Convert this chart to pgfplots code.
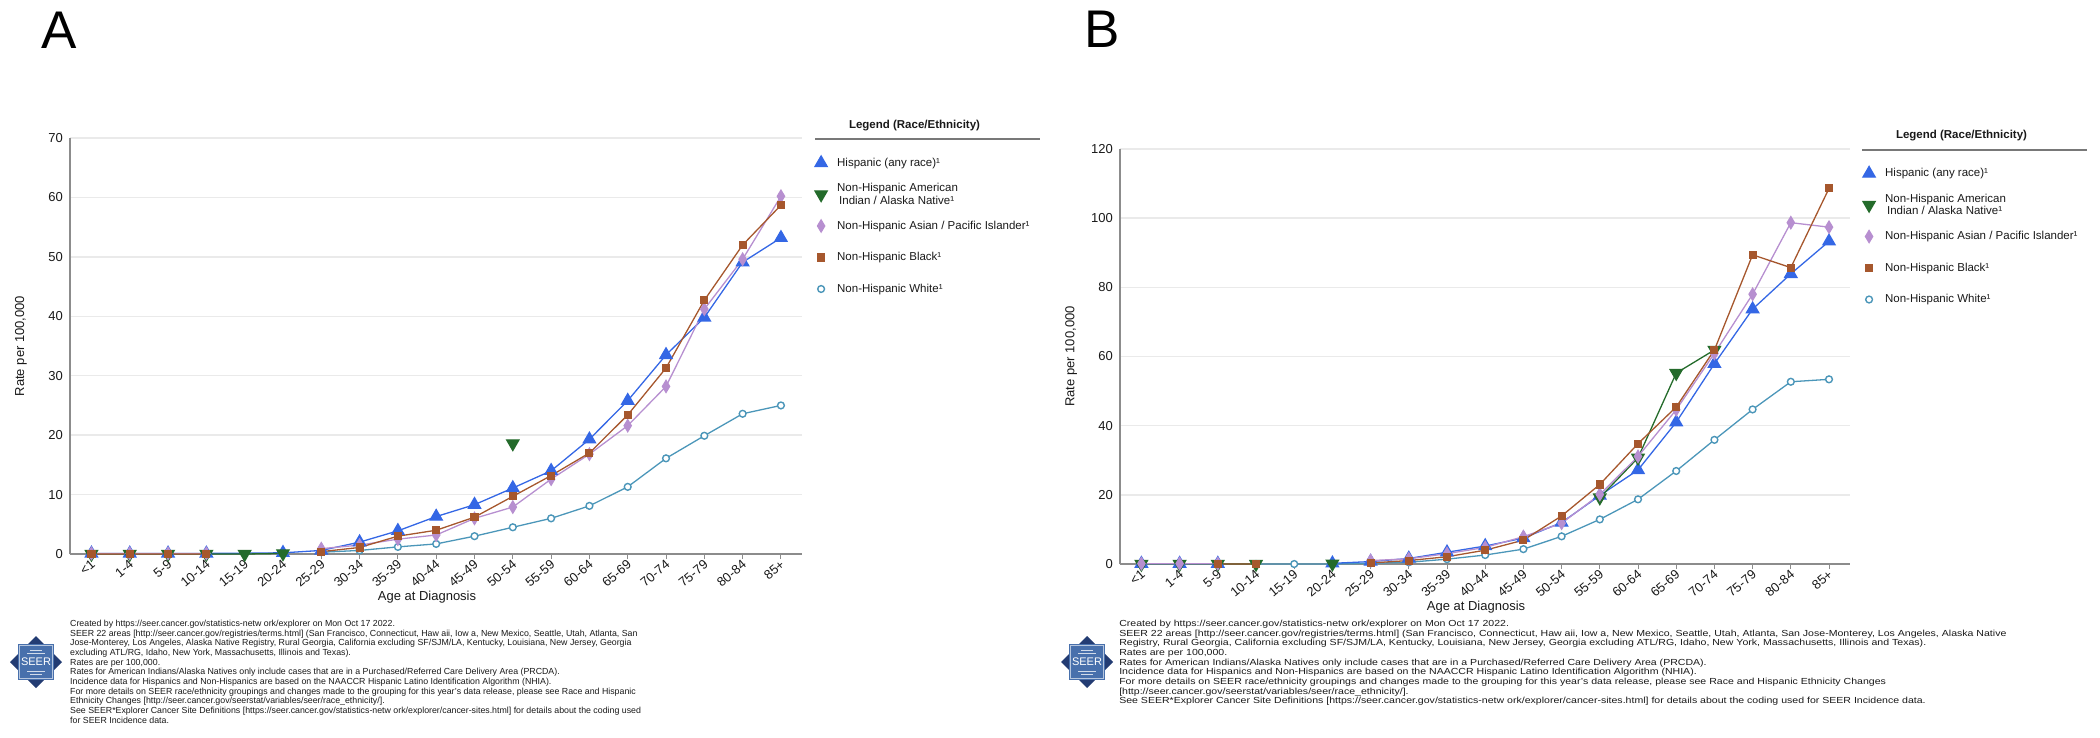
\documentclass[border=0pt]{standalone}
\usepackage{fontspec}
\setmainfont{Liberation Sans}
\usepackage{pgfplots}
\pgfplotsset{compat=1.18}

\definecolor{hisp}{RGB}{52,103,229}
\definecolor{aian}{RGB}{36,107,43}
\definecolor{api}{RGB}{183,143,208}
\definecolor{blk}{RGB}{166,87,45}
\definecolor{wht}{RGB}{75,150,185}
\definecolor{axgray}{RGB}{140,140,140}
\definecolor{gridgray}{RGB}{234,234,234}
\definecolor{txt}{RGB}{25,25,25}
\definecolor{legline}{RGB}{120,120,120}
\definecolor{navy}{RGB}{35,60,115}
\definecolor{seerblue}{RGB}{72,112,172}

\pgfplotsset{
  seer/.style={
    scale only axis,
    clip=false,
    axis x line=bottom, axis y line=left,
    axis line style={-, draw=axgray, line width=1.5pt},
    xmin=-0.56, xmax=18.55, ymin=0,
    xtick={0,...,18},
    xticklabels={<1,1-4,5-9,10-14,15-19,20-24,25-29,30-34,35-39,40-44,45-49,50-54,55-59,60-64,65-69,70-74,75-79,80-84,85+},
    tick align=outside,
    major tick length=5pt,
    x tick style={draw=axgray, line width=1pt},
    y tick style={draw=none},
    ymajorgrids,
    grid style={draw=gridgray, line width=1.5pt},
    tick label style={font=\fontsize{13}{15}\selectfont, text=txt},
    xticklabel style={rotate=40, anchor=east, inner sep=1pt, yshift=-4pt},
    yticklabel style={inner sep=2pt},
    /pgf/number format/assume math mode=true,
    unbounded coords=jump,
    label style={font=\fontsize{13}{15}\selectfont, text=txt},
    ylabel style={at={(axis description cs:-0.067,0.5)}, anchor=center},
    xlabel style={at={(axis description cs:0.4877,-0.103)}, anchor=center},
    legend cell align=left,
    legend style={draw=none, fill=none, anchor=north west, inner sep=0pt, outer sep=0pt,
      column sep=10pt, row sep=0pt, font=\fontsize{11.5}{12.7}\selectfont, text=txt,
      nodes={inner sep=0pt, minimum height=31.5pt, align=left}},
    legend image code/.code={\draw[##1] plot coordinates {(0pt,0pt)};},
  },
  hispS/.style={color=hisp, line width=1.3pt, mark=triangle*, mark size=7pt, mark options={solid}},
  aianS/.style={color=aian, line width=1.3pt, mark=triangle*, mark size=7pt, mark options={solid, rotate=180}},
  apiS/.style={color=api, line width=1.3pt, mark=diamond*, mark size=6pt, mark options={solid, xscale=0.8}},
  blkS/.style={color=blk, line width=1.3pt, mark=square*, mark size=3.4pt, mark options={solid}},
  whtS/.style={color=wht, line width=1.3pt, mark=*, mark size=3.4pt, mark options={solid, fill=white, line width=1.4pt}},
}

\newcommand{\seerlogo}[1]{%
  \begin{scope}[shift={#1}]
    \fill[navy] (0,26pt) -- (26pt,0) -- (0,-26pt) -- (-26pt,0) -- cycle;
    \fill[seerblue] (-18pt,-18pt) rectangle (18pt,18pt);
    \draw[white!60!seerblue, line width=0.8pt] (-16.5pt,-16.5pt) rectangle (16.5pt,16.5pt);
    \draw[white!75!seerblue, line width=0.5pt] (-9pt,9pt) -- (9pt,9pt) (-6pt,12pt) -- (6pt,12pt)
      (-9pt,-9pt) -- (9pt,-9pt) (-6pt,-12pt) -- (6pt,-12pt);
    \node[text=white, inner sep=0pt, font=\fontsize{11}{11}\selectfont] at (0,0) {SEER};
  \end{scope}}

\begin{document}
\begin{tikzpicture}
\useasboundingbox (0,0) rectangle (2100pt,-737pt);

% ---------------- Panel A ----------------
\begin{axis}[seer, at={(70pt,-554pt)}, anchor=south west, width=732pt, height=416pt,
  ymax=70, ytick={0,10,...,70},
  xlabel={Age at Diagnosis}, ylabel={Rate per 100,000},
  legend style={at={(axis description cs:1.0178,0.9778)}}]
\addplot[whtS, forget plot] coordinates {(6,0.3)(7,0.6)(8,1.2)(9,1.7)(10,3.0)(11,4.5)(12,6.0)(13,8.1)(14,11.3)(15,16.1)(16,19.9)(17,23.6)(18,25.0)};
\addplot[hispS, forget plot] coordinates {(0,0.1)(1,0.1)(2,0.1)(3,0.1)(5,0.2)(6,0.6)(7,2.0)(8,3.9)(9,6.3)(10,8.3)(11,11.1)(12,14.0)(13,19.3)(14,25.8)(15,33.5)(16,39.8)(17,49.1)(18,53.2)};
\addplot[aianS, forget plot] coordinates {(0,0)(1,0)(2,0)(3,0)(4,0)(5,0.1)(6,nan)(11,18.6)};
\addplot[apiS, forget plot] coordinates {(0,0.1)(1,0.1)(2,0.1)(3,0.1)(4,nan)(6,0.9)(7,1.5)(8,2.5)(9,3.2)(10,6.0)(11,7.9)(12,12.6)(13,16.8)(14,21.6)(15,28.2)(16,41.2)(17,49.6)(18,60.2)};
\addplot[blkS, forget plot] coordinates {(0,0)(1,0)(2,0)(3,0)(4,nan)(6,0.4)(7,1.1)(8,3.0)(9,4.0)(10,6.2)(11,9.7)(12,13.2)(13,17.0)(14,23.4)(15,31.3)(16,42.7)(17,52.0)(18,58.7)};
\addlegendimage{hispS}\addlegendentry{Hispanic (any race)¹}
\addlegendimage{aianS}\addlegendentry{Non-Hispanic American\\\hspace{2pt}Indian / Alaska Native¹}
\addlegendimage{apiS}\addlegendentry{Non-Hispanic Asian / Pacific Islander¹}
\addlegendimage{blkS}\addlegendentry{Non-Hispanic Black¹}
\addlegendimage{whtS}\addlegendentry{Non-Hispanic White¹}
\end{axis}

% ---------------- Panel B ----------------
\begin{axis}[seer, at={(1120pt,-564pt)}, anchor=south west, width=730pt, height=415pt,
  ymax=120, ytick={0,20,...,120},
  xlabel={Age at Diagnosis}, ylabel={Rate per 100,000},
  legend style={at={(axis description cs:1.0178,0.9789)}}]
\addplot[whtS, forget plot] coordinates {(0,0)(1,0)(2,0)(3,0)(4,0)(5,0)(6,0.2)(7,0.5)(8,1.4)(9,2.6)(10,4.3)(11,8.0)(12,12.9)(13,18.7)(14,26.9)(15,35.9)(16,44.7)(17,52.7)(18,53.4)};
\addplot[hispS, forget plot] coordinates {(0,0.1)(1,0.1)(2,0.1)(3,nan)(5,0.2)(6,0.7)(7,1.6)(8,3.4)(9,5.2)(10,7.5)(11,12.0)(12,19.8)(13,27.2)(14,41.0)(15,57.9)(16,73.7)(17,83.9)(18,93.3)};
\addplot[aianS, forget plot] coordinates {(0,0)(1,0)(2,0)(3,0)(4,nan)(5,0.1)(6,nan)(12,19.2)(13,30.7)(14,55.2)(15,61.9)};
\addplot[apiS, forget plot] coordinates {(0,0.1)(1,0.1)(2,0.1)(3,nan)(6,1.0)(7,1.5)(8,3.0)(9,4.8)(10,7.9)(11,11.8)(12,20.1)(13,31.1)(14,44.6)(15,60.9)(16,78.0)(17,98.7)(18,97.4)};
\addplot[blkS, forget plot] coordinates {(2,0)(3,0)(4,nan)(6,0.3)(7,1.0)(8,2.1)(9,4.0)(10,6.9)(11,13.9)(12,23.0)(13,34.8)(14,45.4)(15,61.9)(16,89.4)(17,85.7)(18,108.6)};
\addlegendimage{hispS}\addlegendentry{Hispanic (any race)¹}
\addlegendimage{aianS}\addlegendentry{Non-Hispanic American\\\hspace{2pt}Indian / Alaska Native¹}
\addlegendimage{apiS}\addlegendentry{Non-Hispanic Asian / Pacific Islander¹}
\addlegendimage{blkS}\addlegendentry{Non-Hispanic Black¹}
\addlegendimage{whtS}\addlegendentry{Non-Hispanic White¹}
\end{axis}

% panel letters
\node[anchor=base west, inner sep=0pt, font=\fontsize{53}{53}\selectfont] at (41pt,-48pt) {A};
\node[anchor=base west, inner sep=0pt, font=\fontsize{53}{53}\selectfont] at (1084pt,-47pt) {B};

% legend headers
\node[inner sep=0pt, text=txt, font=\bfseries\fontsize{11.5}{13}\selectfont] at (914.5pt,-126pt) {Legend (Race/Ethnicity)};
\draw[legline, line width=2pt] (815pt,-139pt) -- (1040pt,-139pt);
\node[inner sep=0pt, text=txt, font=\bfseries\fontsize{11.5}{13}\selectfont] at (1961.5pt,-136pt) {Legend (Race/Ethnicity)};
\draw[legline, line width=2pt] (1862pt,-149.5pt) -- (2087pt,-149.5pt);

% logos
\seerlogo{(36pt,-662pt)}
\seerlogo{(1087pt,-662pt)}

% footnotes
\node[anchor=north west, inner sep=0pt, align=left, text=txt, font=\fontsize{8.8}{9.65}\selectfont] at (70pt,-620pt) {%
Created by https://seer.cancer.gov/statistics-netw ork/explorer on Mon Oct 17 2022.\\
SEER 22 areas {[}http://seer.cancer.gov/registries/terms.html{]} (San Francisco, Connecticut, Haw aii, Iow a, New Mexico, Seattle, Utah, Atlanta, San\\
Jose-Monterey, Los Angeles, Alaska Native Registry, Rural Georgia, California excluding SF/SJM/LA, Kentucky, Louisiana, New Jersey, Georgia\\
excluding ATL/RG, Idaho, New York, Massachusetts, Illinois and Texas).\\
Rates are per 100,000.\\
Rates for American Indians/Alaska Natives only include cases that are in a Purchased/Referred Care Delivery Area (PRCDA).\\
Incidence data for Hispanics and Non-Hispanics are based on the NAACCR Hispanic Latino Identification Algorithm (NHIA).\\
For more details on SEER race/ethnicity groupings and changes made to the grouping for this year's data release, please see Race and Hispanic\\
Ethnicity Changes {[}http://seer.cancer.gov/seerstat/variables/seer/race\_ethnicity/{]}.\\
See SEER*Explorer Cancer Site Definitions {[}https://seer.cancer.gov/statistics-netw ork/explorer/cancer-sites.html{]} for details about the coding used\\
for SEER Incidence data.};

\node[anchor=north west, inner sep=0pt, align=left, text=txt, font=\fontsize{8.8}{9.65}\selectfont, xscale=1.2, transform shape] at (1119pt,-620pt) {%
Created by https://seer.cancer.gov/statistics-netw ork/explorer on Mon Oct 17 2022.\\
SEER 22 areas {[}http://seer.cancer.gov/registries/terms.html{]} (San Francisco, Connecticut, Haw aii, Iow a, New Mexico, Seattle, Utah, Atlanta, San Jose-Monterey, Los Angeles, Alaska Native\\
Registry, Rural Georgia, California excluding SF/SJM/LA, Kentucky, Louisiana, New Jersey, Georgia excluding ATL/RG, Idaho, New York, Massachusetts, Illinois and Texas).\\
Rates are per 100,000.\\
Rates for American Indians/Alaska Natives only include cases that are in a Purchased/Referred Care Delivery Area (PRCDA).\\
Incidence data for Hispanics and Non-Hispanics are based on the NAACCR Hispanic Latino Identification Algorithm (NHIA).\\
For more details on SEER race/ethnicity groupings and changes made to the grouping for this year's data release, please see Race and Hispanic Ethnicity Changes\\
{[}http://seer.cancer.gov/seerstat/variables/seer/race\_ethnicity/{]}.\\
See SEER*Explorer Cancer Site Definitions {[}https://seer.cancer.gov/statistics-netw ork/explorer/cancer-sites.html{]} for details about the coding used for SEER Incidence data.};
\end{tikzpicture}
\end{document}
